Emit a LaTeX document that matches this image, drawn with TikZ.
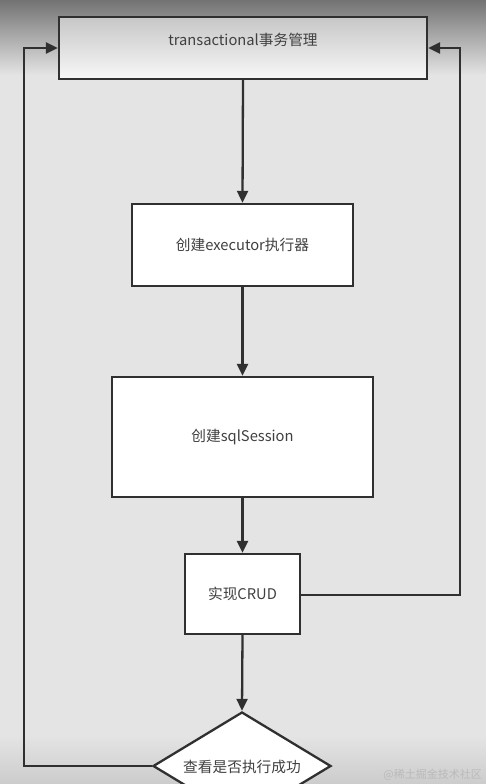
\documentclass[tikz,border=0pt]{standalone}
\usepackage{fontspec}
\setmainfont{Noto Sans CJK SC}
\usetikzlibrary{arrows.meta,shapes.geometric}
\definecolor{bgc}{HTML}{E4E4E4}
\definecolor{linec}{HTML}{303030}
\definecolor{txtc}{HTML}{404040}
\tikzset{
  box/.style={draw=linec, line width=2.3pt, fill=white, inner sep=0pt},
  lbl/.style={text=txtc, font=\fontsize{14.7}{16}\selectfont, inner sep=0pt},
  conn/.style={draw=linec, line width=2.3pt, -{Triangle[length=12pt,width=11pt]}},
}
\begin{document}
\begin{tikzpicture}[x=1pt,y=-1pt]
\useasboundingbox (0,0) rectangle (486,784);
\clip (0,0) rectangle (486,784);
% background
\fill[bgc] (0,0) rectangle (486,784);
\shade[top color={black!55}, bottom color=bgc] (0,0) rectangle (486,75);
\shade[top color=bgc, bottom color={black!20}] (0,735) rectangle (486,784);
% nodes
\node[box, minimum width=368pt, minimum height=62pt, top color={black!22}, bottom color={black!3}] (top) at (243,48) {};
\node[lbl] (toplbl) at (243,40) {transactional事务管理};
\node[box, minimum width=221pt, minimum height=82pt, lbl] (exec) at (242.5,245) {创建executor执行器};
\node[box, minimum width=261pt, minimum height=120pt, lbl] (sql) at (242.5,437) {创建sqlSession};
\node[box, minimum width=115pt, minimum height=80pt, lbl] (crud) at (242.5,594) {实现CRUD};
\node[box, shape=diamond, minimum width=178pt, minimum height=108pt] (chk) at (242,766) {};
\node[lbl] (chklbl) at (242,767) {查看是否执行成功};
\coordinate (lc1) at (24,766);
\coordinate (lc2) at (24,48);
\coordinate (rc1) at (460,595);
\coordinate (rc2) at (460,48);
% connectors
\draw[conn] (top.south) -- (exec.north);
\draw[conn] (exec.south) -- (sql.north);
\draw[conn] (sql.south) -- (crud.north);
\draw[conn] (crud.south) -- (chk.north);
\draw[conn] (chk.west) -- (lc1) -- (lc2) -- (top.west);
\draw[conn] (crud.east |- rc1) -- (rc1) -- (rc2) -- (top.east);
% watermark
\node[text={black!27}, font=\fontsize{11}{12}\selectfont, inner sep=0pt, anchor=east] (wm) at (482,775) {@稀土掘金技术社区};
\end{tikzpicture}
\end{document}
